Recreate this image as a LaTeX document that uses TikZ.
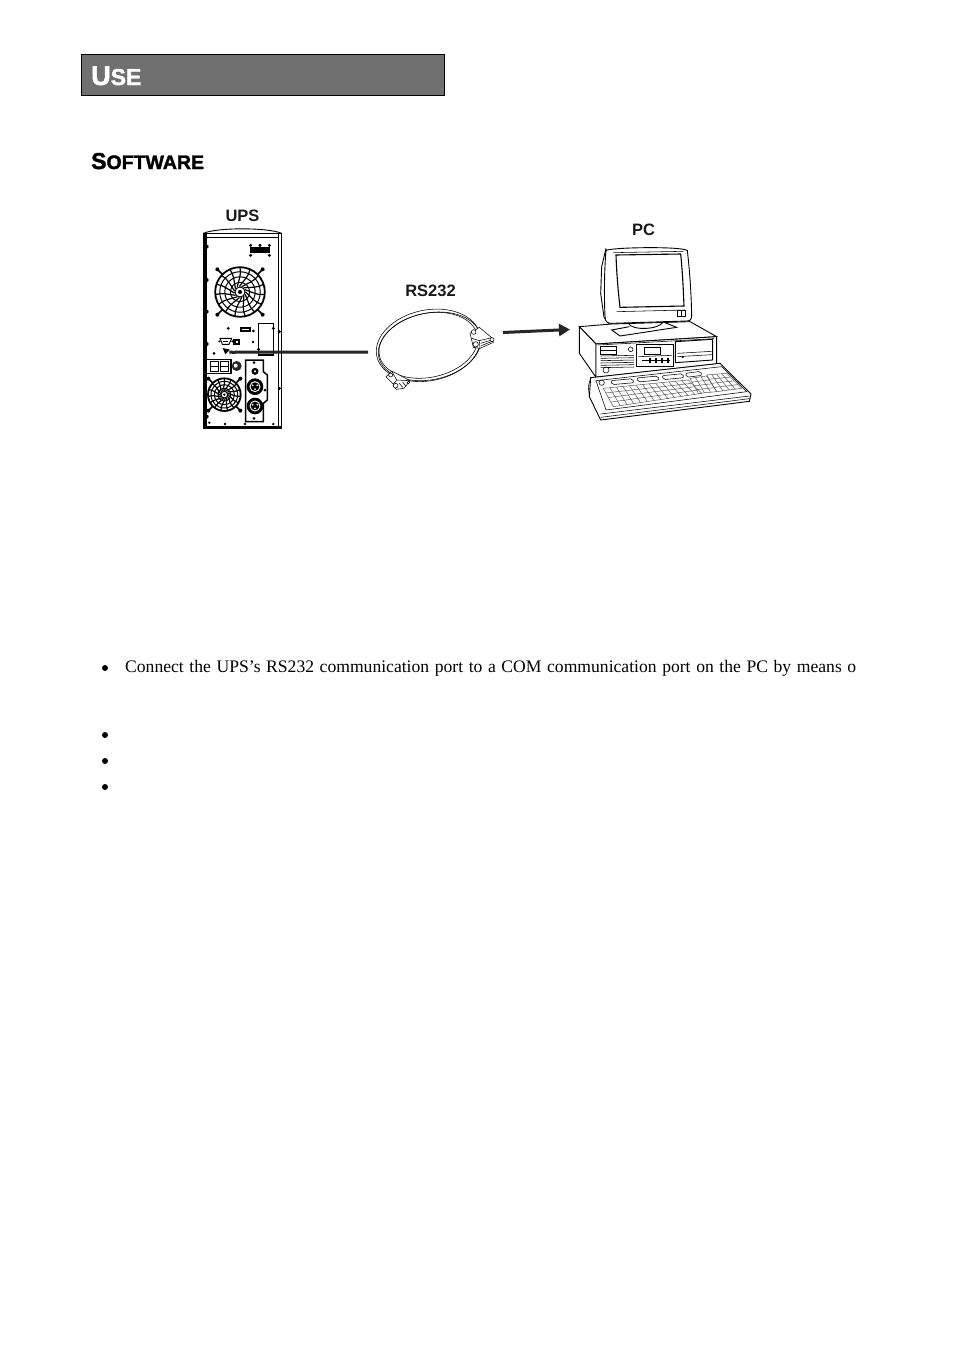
\documentclass[tikz,border=0pt]{standalone}
\usepackage{fontspec}
\setmainfont{Liberation Serif}
\newfontfamily\hsans{Liberation Sans}
\newfontfamily\hheavy[BoldFont={Liberation Sans Bold},BoldFeatures={FakeBold=1.6}]{Liberation Sans}
\usetikzlibrary{calc,arrows.meta}
\definecolor{bargray}{HTML}{707070}
\tikzset{
  x=1pt,y=-1pt,
  caption/.style={font=\hsans\bfseries\fontsize{16.5}{16}\selectfont,inner sep=0pt,text=black!90},
  thinline/.style={line width=0.55pt,black},
  keyline/.style={line width=0.45pt,black!70},
  medline/.style={line width=0.9pt,black},
  heavy/.style={line width=1.5pt,black},
  wire/.style={line width=3pt,black!85},
  bulletdot/.style={circle,fill=black,inner sep=0pt,minimum size=6pt},
  bodytext/.style={anchor=base west,inner sep=0pt,font=\fontsize{17.6}{19}\selectfont},
}
\newcommand{\fanmark}[4]{% cx cy r screw-offset (zoom units)
  \begin{scope}[shift={(#1,#2)}]
    \foreach \sx/\sy in {-1/-1,1/-1,-1/1,1/1}{
      \draw[line width=1.6pt] ({\sx*#4},{\sy*#4}) -- ({\sx*#3*0.62},{\sy*#3*0.62});
      \fill ({\sx*#4},{\sy*#4}) circle (6);}
    \draw[line width=1.8pt,fill=white] (0,0) circle ({#3*0.98});
    \foreach \k in {0.8,0.6,0.38,0.2}{\draw[line width=1pt] (0,0) circle ({#3*\k});}
    \foreach \a in {0,24,...,336}{\draw[line width=1.2pt] (\a:#3*0.22) .. controls (\a+25:#3*0.5) and (\a+35:#3*0.7) .. (\a+30:#3*0.96);}
    \fill (0,0) circle ({#3*0.08});
  \end{scope}}
\newcommand{\keygrid}[6]{% corners a b c d rows cols
  \coordinate (ka) at (#1); \coordinate (kb) at (#2); \coordinate (kc) at (#3); \coordinate (kd) at (#4);
  \draw[keyline] (ka) -- (kb) -- (kd) -- (kc) -- cycle;
  \foreach \i in {1,...,#5}{\draw[keyline] ($(ka)!{\i/(#5+1)}!(kc)$) -- ($(kb)!{\i/(#5+1)}!(kd)$);}
  \foreach \j in {1,...,#6}{\draw[keyline] ($(ka)!{\j/(#6+1)}!(kb)$) -- ($(kc)!{\j/(#6+1)}!(kd)$);}
}
\begin{document}
\begin{tikzpicture}
\useasboundingbox[fill=white] (0,0) rectangle (954,1350);

% header
\node[draw=black,line width=0.8pt,fill=bargray,minimum width=363pt,minimum height=41pt,inner sep=0pt,anchor=north west] (bar) at (81,54) {};
\node[anchor=base west,inner sep=0pt,text=white,font=\hheavy\bfseries] (use) at (91,85) {\fontsize{27}{26}\selectfont U\fontsize{23}{21}\selectfont SE};
\node[anchor=base west,inner sep=0pt,font=\hheavy\bfseries] (soft) at (91,169) {\fontsize{23}{23}\selectfont S\fontsize{19.5}{18}\selectfont OFTWARE};

% captions
\node[caption] (upslabel) at (242.5,215.5) {UPS};
\node[caption] (rslabel) at (430.5,291) {RS232};
\node[caption] (pclabel) at (643.5,229.5) {PC};

% UPS tower (zoom coordinates)
\begin{scope}[shift={(190,200)},scale=1/3]
  \draw[medline] (40,100) .. controls (80,82) and (235,82) .. (275,100);
  \draw[heavy] (42,100) rectangle (275,685);
  \fill (42,100) rectangle (52,685);
  \fill (42,678) rectangle (275,688);
  \draw[medline] (52,112) -- (265,112) (265,100) -- (265,678);
  \foreach \y in {140,240,335,432,650}{\fill (50,\y) circle (6);}
  \foreach \y in {395,565}{\fill (268,\y) circle (5);}
  % handle
  \fill (180,142) rectangle (240,158);
  \foreach \px/\py in {182/136,210/136,238/136,182/166,238/166}{\fill (\px,\py) circle (5);}
  \fanmark{150}{276}{76}{68}
  % middle panel
  \fill (150,382) rectangle (182,396);
  \fill[white] (156,387) rectangle (176,391);
  \fill (115,385) circle (4.5) (190,393) circle (4.5);
  \draw[heavy] (206,370) -- (250,370) -- (250,465) -- (206,465) -- cycle;
  \fill (250,385) circle (5) (206,448) circle (5);
  % serial port
  \draw[medline] (90,415) -- (125,415) -- (117,433) -- (97,433) -- cycle;
  \fill (88,424) circle (3.5) (127,424) circle (3.5);
  \draw[line width=1.2pt] (98,424) -- (115,424);
  \fill (130,417) rectangle (150,434);
  \fill[white] (137,422) rectangle (143,428);
  \fill (189,426) circle (4);
  % switches
  \draw[heavy] (52,478) -- (123,478) -- (123,520) -- (52,520);
  \draw[line width=1pt] (62,484) rectangle (86,514) (92,484) rectangle (116,514);
  \draw[line width=0.9pt] (62,499) -- (86,499) (92,499) -- (116,499);
  \fill (72,460) circle (4.5);
  \fill[black!85] (140,498) circle (15);
  \fill[white] (137,497) circle (6);
  % lower panel
  \draw[heavy] (167,480) -- (220,480) -- (220,515) -- (232,525) -- (232,600) -- (220,610) -- (220,665) -- (167,665) -- cycle;
  \fill (192,488) circle (4.5);
  \draw[line width=2.2pt] (195,514) circle (7);
  \fill (192,655) circle (4.5);
  \fill (225,570) circle (4.5);
  \foreach \cy in {560,618}{
    \fill (195,\cy) circle (25);
    \draw[white,line width=0.9pt] (195,\cy) circle (15);
    \fill[white] (188,{\cy-4}) circle (3) (202,{\cy-4}) circle (3) (195,{\cy+7}) circle (3);
  }
  \fanmark{103}{584}{50}{48}
  \foreach \sx/\sy in {58/668,105/672,165/672,250/672}{\fill (\sx,\sy) circle (4);}
  \coordinate (portend) at (118,456);
  \fill (98,444) -- (120,449) -- (106,463) -- cycle;
\end{scope}

% cable (zoom coordinates)
\begin{scope}[shift={(360,270)},scale=1/3]
  \draw[thinline] (205,226) [rotate around={12:(205,226)}] ellipse (158 and 106);
  \draw[thinline] (205,226) [rotate around={12:(205,226)}] ellipse (150 and 96);
  \draw[thinline] (209,229) [rotate around={12:(209,229)}] ellipse (156 and 100);
  \draw[thinline,fill=white] (330,190) -- (358,172) -- (395,203) -- (400,217) -- (360,235) -- (340,232) -- (335,210) -- cycle;
  \draw[thinline] (358,212) -- (395,203) (360,235) -- (358,212) -- (335,205);
  \draw[thinline] (362,220) -- (395,210) (364,227) -- (396,214);
  \draw[thinline,fill=white] (347,223) circle (8) (396,209) circle (6) (341,186) circle (7);
  \draw[thinline,fill=white] (78,320) -- (95,303) -- (150,332) -- (132,355) -- (108,358) -- (100,342) -- cycle;
  \draw[thinline] (95,303) -- (110,330) -- (100,342) (110,330) -- (150,332);
  \draw[thinline] (118,340) -- (128,352) (128,336) -- (138,350);
  \draw[thinline,fill=white] (107,347) circle (7) (92,315) circle (6) (145,338) circle (4);
\end{scope}
\coordinate (cableend) at (368,352);
\coordinate (arrowstart) at (503,332.5);
\coordinate (arrowtip) at (570,329.5);
\draw[wire] (portend) .. controls +(3,1) and +(-3,0) .. (238,352) -- (cableend);
\draw[wire,-{Triangle[length=11pt,width=12pt]}] (arrowstart) -- (arrowtip);

% PC (zoom coordinates)
\begin{scope}[shift={(570,210)},scale=1/3]
  % monitor
  \draw[medline,fill=white] (108,115) -- (95,170) -- (92,250) -- (102,322) -- (115,338) -- (108,115);
  \draw[medline,fill=white] (108,122) .. controls (112,112) and (340,108) .. (352,122) .. controls (360,190) and (364,260) .. (365,318) .. controls (364,330) and (360,332) .. (350,333) -- (125,340) .. controls (112,340) and (106,336) .. (105,320) .. controls (102,250) and (103,180) .. (108,122) -- cycle;
  \draw[line width=1.1pt] (138,135) -- (332,132) .. controls (338,190) and (340,240) .. (342,288) -- (150,292) .. controls (144,240) and (140,190) .. (138,135) -- cycle;
  \draw[thinline] (130,128) -- (340,124) (345,300) -- (140,305);
  \draw[thinline,fill=white] (322,300) rectangle (346,318);
  \draw[thinline] (334,300) -- (334,318);
  % case top
  \draw[medline,fill=white] (28,350) -- (125,342) -- (360,335) -- (440,380) -- (78,402) -- cycle;
  % stand
  \draw[medline,fill=white] (175,340) .. controls (185,362) and (265,360) .. (280,336) -- (320,352) -- (150,378) -- (125,360) -- (178,350);
  % case sides
  \draw[medline,fill=white] (28,350) -- (78,402) -- (78,502) -- (28,430) -- cycle;
  \draw[medline,fill=white] (78,402) -- (440,380) -- (440,462) -- (78,502) -- cycle;
  \draw[thinline] (85,405) -- (432,386);
  % left panel
  \draw[thinline] (92,410) rectangle (138,432);
  \draw[thinline] (92,420) -- (138,420);
  \draw[thinline] (182,418) circle (7);
  \foreach \y in {438,445,452,459,466,473}{\draw[thinline] (92,\y) -- (192,{\y-2});}
  \draw[thinline] (108,480) circle (9);
  % centre panel
  \draw[medline] (200,402) rectangle (310,468);
  \draw[thinline] (222,412) rectangle (272,432);
  \draw[thinline] (205,440) -- (305,436);
  \foreach \kx in {238,256,272,290}{\fill (\kx,444) rectangle ({\kx+6},460);}
  \draw[line width=1.2pt] (215,452) -- (300,452);
  \fill (268,404) circle (2.5);
  % right panel
  \draw[medline] (316,395) -- (428,388) -- (428,450) -- (316,458) -- cycle;
  \draw[thinline] (322,430) -- (425,424) (322,440) -- (425,434);
  \fill (338,441) circle (3.5);
  % keyboard
  \draw[medline,fill=white] (62,503) -- (450,460) -- (543,552) -- (538,574) -- (92,630) -- (58,560) -- cycle;
  \draw[thinline] (62,503) -- (55,530) -- (58,560);
  \draw[thinline] (78,512) -- (455,470) -- (530,545) -- (108,600) -- cycle;
  \draw[thinline] (92,612) -- (538,558);
  \draw[thinline] (92,622) -- (538,566);
  \draw[thinline] (95,518) circle (8);
  \foreach \kx/\ky/\kw in {122/512/66,200/504/64,276/497/62,346/490/46}{
    \draw[thinline,rounded corners=2pt] (\kx,\ky) -- ({\kx+\kw},{\ky-6}) -- ({\kx+\kw+4},{\ky+6}) -- ({\kx+4},{\ky+12}) -- cycle;}
  \keygrid{100,535}{355,510}{130,590}{395,550}{3}{12}
  \keygrid{360,505}{410,498}{385,550}{440,545}{3}{2}
  \keygrid{410,495}{470,490}{440,545}{515,535}{3}{3}
\end{scope}

% body
\node[bulletdot] (b1) at (105,668) {};
\node[bodytext] (line1) at (125,672) {\makebox[731pt][s]{Connect the UPS’s RS232 communication port to a COM communication port on the PC by means o}};
\node[bulletdot] (b2) at (105,735) {};
\node[bulletdot] (b3) at (105,761) {};
\node[bulletdot] (b4) at (105,787) {};
\end{tikzpicture}
\end{document}
